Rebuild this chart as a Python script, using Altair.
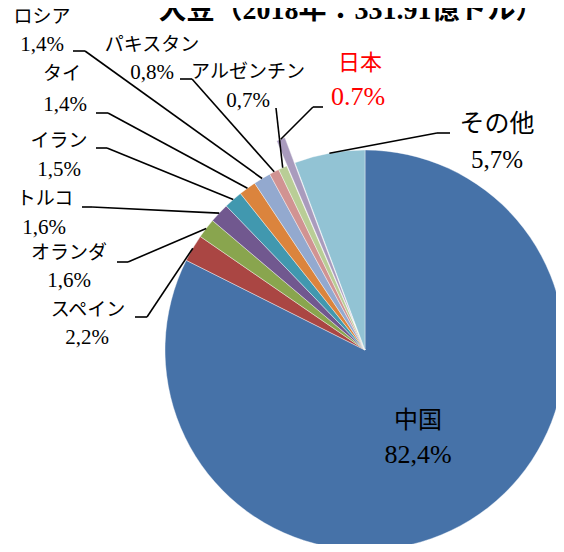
import math
import altair as alt
import pandas as pd

# ---- data ----
names = ["中国", "スペイン", "オランダ", "トルコ", "イラン", "タイ", "ロシア",
         "パキスタン", "アルゼンチン", "日本", "その他"]
shares = [82.4, 2.2, 1.6, 1.6, 1.5, 1.4, 1.4, 0.8, 0.7, 0.7, 5.7]
pct_labels = ["82,4%", "2,2%", "1,6%", "1,6%", "1,5%", "1,4%", "1,4%",
              "0,8%", "0,7%", "0.7%", "5,7%"]
colors = ["#4672A8", "#AA4643", "#89A54E", "#71588F", "#4198AF", "#DB843D",
          "#93A9CF", "#D19392", "#B9CD96", "#A99BBD", "#92C3D4"]
title_text = "大豆（2018年：331.91億ドル）"

# ---- layout (chart pixel space) ----
CX, CY, R = 357, 342, 200
EXPLODE = 27
FONT = "Liberation Serif, Noto Sans CJK JP"

# label centres: name (x, y), pct (x, y), name size, pct size, colour
label_layout = {
    "中国":       ((410, 413), (410, 447), 24, 26, "black"),
    "スペイン":   ((80, 302), (79, 330), 19, 21, "black"),
    "オランダ":   ((61, 245), (61, 273), 19, 21, "black"),
    "トルコ":     ((37, 191), (36, 220), 19, 21, "black"),
    "イラン":     ((51, 133), (51, 162), 19, 21, "black"),
    "タイ":       ((54, 66), (57, 97), 19, 21, "black"),
    "ロシア":     ((34, 9), (34, 37), 19, 21, "black"),
    "パキスタン": ((144, 37), (144, 65), 19, 21, "black"),
    "アルゼンチン": ((240, 64), (240, 93), 19, 21, "black"),
    "日本":       ((352, 55), (350, 89), 22, 26, "#FF0000"),
    "その他":     ((489, 116), (489, 152), 25, 25, "black"),
}
# leader: start point, elbow point (then to slice edge)
leader_layout = {
    "スペイン":   ((127, 309), (139, 309)),
    "オランダ":   ((109, 254), (120, 254)),
    "トルコ":     ((74, 199), (84, 199)),
    "イラン":     ((88, 140), (99, 140)),
    "タイ":       ((88, 105), (100, 105)),
    "ロシア":     ((65, 43), (77, 43)),
    "パキスタン": ((172, 71), (184, 71)),
    "アルゼンチン": ((268, 100), (268, 100)),
    "日本":       ((315, 99), (305, 99)),
    "その他":     ((442, 125), (429, 125)),
}

df = pd.DataFrame({"idx": range(len(names)), "name": names, "share": shares})

# slice edge points for the leader lines
seg_rows = []
cum = 0.0
for n, s in zip(names, shares):
    start = cum
    cum += s
    mid = (start + cum) / 100 * math.pi
    if n in leader_layout:
        off = EXPLODE if n == "日本" else 0
        ex = CX + (R + off) * math.sin(mid)
        ey = CY - (R + off) * math.cos(mid)
        (sx, sy), (bx, by) = leader_layout[n]
        seg_rows.append({"x": sx, "y": sy, "x2": bx, "y2": by})
        seg_rows.append({"x": bx, "y": by, "x2": ex, "y2": ey})
seg_df = pd.DataFrame(seg_rows)

text_rows = []
for n, p in zip(names, pct_labels):
    (nx, ny), (px, py), ns, ps, col = label_layout[n]
    text_rows.append({"t": n, "x": nx, "y": ny, "s": ns, "c": col})
    text_rows.append({"t": p, "x": px, "y": py, "s": ps, "c": col})
text_df = pd.DataFrame(text_rows)

theta_scale = alt.Scale(domain=[0, 100], range=[0, 2 * math.pi])
color_scale = alt.Scale(domain=names, range=colors)

base = alt.Chart(df).transform_window(
    cum="sum(share)", sort=[alt.SortField("idx")], frame=[None, 0]
).transform_calculate(start="datum.cum - datum.share")

pie = base.transform_filter("datum.name != '日本'").mark_arc(
    radius=R, stroke="white", strokeWidth=0.4
).encode(
    theta=alt.Theta("start:Q", scale=theta_scale),
    theta2="cum:Q",
    color=alt.Color("name:N", scale=color_scale, legend=None),
    x=alt.value(CX),
    y=alt.value(CY),
)

japan = base.transform_filter("datum.name == '日本'").transform_calculate(
    mid="(datum.start + datum.cum) / 100 * PI"
).transform_calculate(
    jx=f"{CX} + {EXPLODE} * sin(datum.mid)",
    jy=f"{CY} - {EXPLODE} * cos(datum.mid)",
).mark_arc(radius=R, stroke="white", strokeWidth=0.4).encode(
    theta=alt.Theta("start:Q", scale=theta_scale),
    theta2="cum:Q",
    color=alt.Color("name:N", scale=color_scale, legend=None),
    x=alt.X("jx:Q", scale=None, axis=None),
    y=alt.Y("jy:Q", scale=None, axis=None),
)

leaders = alt.Chart(seg_df).mark_rule(color="black", strokeWidth=1.6).encode(
    x=alt.X("x:Q", scale=None, axis=None),
    y=alt.Y("y:Q", scale=None, axis=None),
    x2="x2:Q",
    y2="y2:Q",
)

labels = alt.Chart(text_df).mark_text(
    font=FONT, align="center", baseline="middle"
).encode(
    x=alt.X("x:Q", scale=None, axis=None),
    y=alt.Y("y:Q", scale=None, axis=None),
    text="t:N",
    size=alt.Size("s:Q", scale=None, legend=None),
    color=alt.Color("c:N", scale=None, legend=None),
)

title = alt.Chart(pd.DataFrame({"t": [title_text]})).mark_text(
    font=FONT, fontSize=28, fontWeight="bold", align="center", baseline="alphabetic"
).encode(
    x=alt.value(343), y=alt.value(11), text="t:N"
)

chart = alt.layer(pie, japan, leaders, labels, title).properties(
    width=548, height=536, padding=0, autosize="none"
).configure_view(stroke=None)

chart.save("out.html", embed_options={"renderer": "svg", "actions": False})
